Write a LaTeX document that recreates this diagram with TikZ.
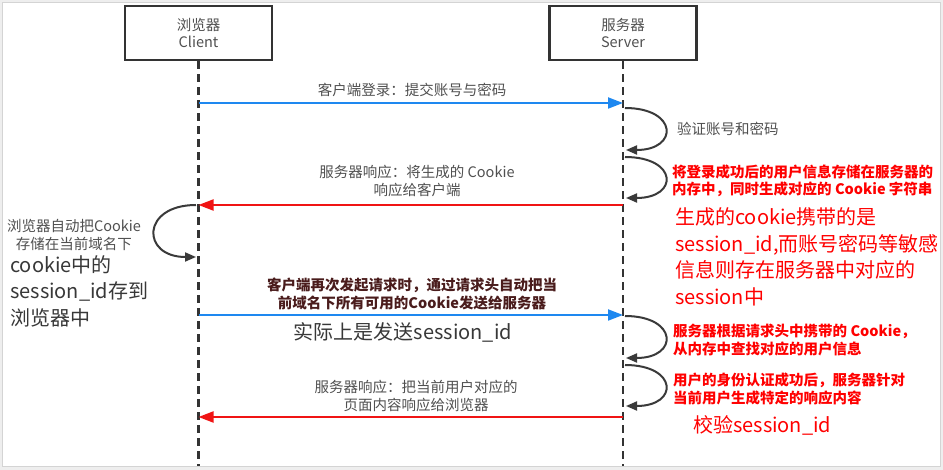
\documentclass[tikz,border=0pt]{standalone}
\usepackage{fontspec}
\setmainfont{Noto Sans CJK SC}
\usetikzlibrary{arrows.meta}

\definecolor{lineGray}{HTML}{333333}
\definecolor{loopGray}{HTML}{3A3A3A}
\definecolor{txtGray}{HTML}{505050}
\definecolor{darkTxt}{HTML}{383838}
\definecolor{msgBlue}{HTML}{1E88F0}
\definecolor{msgRed}{HTML}{F01414}
\definecolor{noteRed}{HTML}{FF0000}
\definecolor{noteBrown}{HTML}{4A1C1C}
\definecolor{frameGray}{HTML}{EEEEEE}
\definecolor{frameLine}{HTML}{D4D4D4}

\begin{document}
\begin{tikzpicture}[x=1pt,y=-1pt,
  actor/.style={draw=lineGray, line width=2.6pt, fill=white, minimum width=147pt,
    minimum height=54pt, align=center, text=txtGray, inner sep=0pt,
    font=\fontsize{14.5}{17.5}\selectfont},
  lifeline/.style={draw=lineGray, line width=2.4pt, dash pattern=on 8pt off 5pt},
  msg/.style={line width=2pt, -{Triangle[length=15pt,width=11pt]}},
  selfloop/.style={draw=loopGray, line width=2pt, -{Triangle[length=11pt,width=9pt]}},
  lbl/.style={inner sep=0pt, align=center, text=txtGray, font=\fontsize{14.5}{18}\selectfont},
  boldlbl/.style={inner sep=0pt, align=center, text=noteBrown, font=\fontsize{14.5}{18}\selectfont\bfseries},
  rednote/.style={inner sep=0pt, align=left, anchor=west, text=noteRed, font=\fontsize{14.5}{17.5}\selectfont\bfseries},
  bignote/.style={inner sep=0pt, align=left, anchor=west, font=\fontsize{20}{26.5}\selectfont},
]
\useasboundingbox (0,0) rectangle (943,470);

% page frame
\fill[frameGray] (0,0) rectangle (943,470);
\filldraw[fill=white, draw=frameLine, line width=0.8pt] (2,2) rectangle (940,466);

% participants
\node[actor] (client) at (198.5,33) {浏览器\\Client};
\node[actor] (server) at (623,33) {服务器\\Server};

% lifelines
\coordinate (cEnd) at (198.5,466);
\coordinate (sEnd) at (623,466);
\draw[lifeline] (client.south) -- (cEnd);
\draw[lifeline] (server.south) -- (sEnd);

% message anchor points on the lifelines
\coordinate (c1) at (198.5,103); \coordinate (s1) at (623,103);
\coordinate (c2) at (198.5,205); \coordinate (s2) at (623,205);
\coordinate (c3) at (198.5,315); \coordinate (s3) at (623,315);
\coordinate (c4) at (198.5,417); \coordinate (s4) at (623,417);

% messages
\draw[msg, draw=msgBlue] (c1) -- (s1);
\draw[msg, draw=msgRed] (s2) -- (c2);
\draw[msg, draw=msgBlue] (c3) -- (s3);
\draw[msg, draw=msgRed] (s4) -- (c4);

% self calls on the server
\coordinate (l1a) at (625,108); \coordinate (l1b) at (626,150);
\coordinate (l2a) at (625,157); \coordinate (l2b) at (626,198);
\coordinate (l3a) at (625,316); \coordinate (l3b) at (626,358);
\coordinate (l4a) at (625,365); \coordinate (l4b) at (626,406);
\draw[selfloop] (l1a) .. controls +(53,0) and +(53,0) .. (l1b);
\draw[selfloop] (l2a) .. controls +(53,0) and +(53,0) .. (l2b);
\draw[selfloop] (l3a) .. controls +(53,0) and +(53,0) .. (l3b);
\draw[selfloop] (l4a) .. controls +(53,0) and +(53,0) .. (l4b);

% self call on the client
\coordinate (lca) at (196,205); \coordinate (lcb) at (196,257);
\draw[selfloop] (lca) .. controls +(-55,0) and +(-55,0) .. (lcb);

% message labels
\node[lbl] (t1) at (412,90) {客户端登录：提交账号与密码};
\node[lbl] (t2) at (417,180.5) {服务器响应：将生成的 Cookie\\响应给客户端};
\node[boldlbl] (t3) at (412,294) {客户端再次发起请求时，通过请求头自动把当\\前域名下所有可用的Cookie发送给服务器};
\node[bignote, anchor=center, text=darkTxt] (t3b) at (403,332) {实际上是发送session\_id};
\node[lbl] (t4) at (416,396) {服务器响应：把当前用户对应的\\页面内容响应给浏览器};

% server side notes
\node[lbl, anchor=west] (n1) at (677,129) {验证账号和密码};
\node[rednote] (n2) at (672,181) {将登录成功后的用户信息存储在服务器的\\内存中，同时生成对应的 Cookie 字符串};
\node[bignote, text=noteRed] (n2b) at (675,257) {生成的cookie携带的是\\session\_id,而账号密码等敏感\\信息则存在服务器中对应的\\session中};
\node[rednote] (n3) at (673,340) {服务器根据请求头中携带的 Cookie，\\从内存中查找对应的用户信息};
\node[rednote] (n4) at (673,389) {用户的身份认证成功后，服务器针对\\当前用户生成特定的响应内容};
\node[bignote, text=noteRed] (n4b) at (693,425) {校验session\_id};

% client side notes
\node[lbl] (nc) at (74,234.5) {浏览器自动把Cookie\\存储在当前域名下};
\node[bignote, text=darkTxt] (ncb) at (10,291) {cookie中的\\session\_id存到\\浏览器中};
\end{tikzpicture}
\end{document}
